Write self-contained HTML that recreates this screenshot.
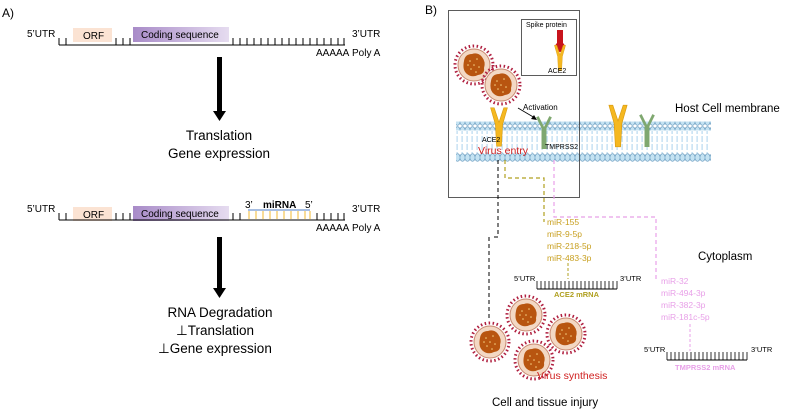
<!DOCTYPE html>
<html><head><meta charset="utf-8"><style>
html,body{margin:0;padding:0;background:#fff;}
svg{display:block;font-family:"Liberation Sans",sans-serif;}
</style></head><body>
<svg width="785" height="411" viewBox="0 0 785 411" xmlns="http://www.w3.org/2000/svg">
<defs>
<linearGradient id="cs" x1="0" x2="1"><stop offset="0" stop-color="#a88bc8"/><stop offset="1" stop-color="#e6dcf0"/></linearGradient>
<pattern id="heads" x="0" y="0" width="5" height="9" patternUnits="userSpaceOnUse">
<ellipse cx="2.5" cy="4.5" rx="2.6" ry="3.8" fill="#c4e2f2" stroke="#5a90b8" stroke-width="0.6"/>
</pattern>
<pattern id="tails" x="0" y="0" width="5" height="8" patternUnits="userSpaceOnUse">
<rect x="1.5" y="0" width="1.2" height="6" fill="#b8daf0"/>
</pattern>
<g id="vir">
<circle r="19" fill="none" stroke="#b02040" stroke-width="3" stroke-dasharray="1.5 2.5"/>
<circle r="16" fill="#f3d8c4" stroke="#c88870" stroke-width="1"/>
<path d="M-10,-4 Q-9,-11 -2,-11 Q4,-13 8,-8 Q12,-3 10,3 Q11,9 4,10 Q-2,13 -7,9 Q-12,5 -10,-4Z" fill="#b85510"/>
<g fill="#f5d080"><circle cx="-4" cy="-4" r="0.8"/><circle cx="3" cy="-6" r="0.8"/><circle cx="5" cy="2" r="0.8"/><circle cx="-3" cy="4" r="0.8"/><circle cx="0" cy="0" r="0.8"/><circle cx="-6" cy="0" r="0.8"/><circle cx="2" cy="7" r="0.8"/></g>
</g>
<g id="ace2">
<path d="M-7,-16 L-3,-2 L-2,16 L2,16 L3,-2 L7,-16 L4,-16 L0,-4 L-4,-16Z" fill="#f5b820" stroke="#d89a10" stroke-width="0.5"/>
</g>
<g id="tmp">
<path d="M-6,-12 L-1,-2 L-1,16 L1,16 L1,-2 L6,-12" fill="none" stroke="#7fa870" stroke-width="2.5"/>
</g>
</defs>

<!-- Panel A -->
<text x="2" y="17" font-size="12">A)</text>
<g font-size="10">
<text x="27" y="37">5’UTR</text>
<text x="352" y="37">3’UTR</text>
<text x="352" y="56">Poly A</text>
<text x="316" y="56">AAAAA</text>
</g>
<rect x="73" y="28" width="39" height="14" fill="#fbe3d3"/>
<text x="83" y="39" font-size="10">ORF</text>
<rect x="133" y="27" width="96" height="15" fill="url(#cs)"/>
<text x="141" y="38" font-size="10">Coding sequence</text>
<path d="M59,45 H345 M59,45 V38 M66,45 V38 M116,45 V38 M123,45 V38 M130,45 V38 M233,45V38 M240,45V38 M247,45V38 M254,45V38 M261,45V38 M268,45V38 M275,45V38 M282,45V38 M289,45V38 M296,45V38 M303,45V38 M310,45V38 M317,45V38 M324,45V38 M331,45V38 M338,45V38 M344,45V38" stroke="#000" stroke-width="1" fill="none"/>
<rect x="217" y="57" width="5" height="56" fill="#000"/>
<path d="M213,111 L226,111 L219.5,121Z" fill="#000"/>
<text x="219" y="140" font-size="13.5" text-anchor="middle">Translation</text>
<text x="219" y="158" font-size="13.5" text-anchor="middle">Gene expression</text>

<g font-size="10">
<text x="27" y="212">5’UTR</text>
<text x="352" y="212">3’UTR</text>
<text x="352" y="231">Poly A</text>
<text x="316" y="231">AAAAA</text>
<text x="245" y="208">3’</text>
<text x="263" y="208" font-weight="bold">miRNA</text>
<text x="305" y="208">5’</text>
</g>
<rect x="73" y="207" width="39" height="14" fill="#fbe3d3"/>
<text x="83" y="218" font-size="10">ORF</text>
<rect x="133" y="206" width="96" height="15" fill="url(#cs)"/>
<text x="141" y="217" font-size="10">Coding sequence</text>
<path d="M59,220 H345 M59,220 V213 M66,220 V213 M116,220 V213 M123,220 V213 M130,220 V213 M233,220V213 M240,220V213 M317,220V213 M324,220V213 M331,220V213 M338,220V213 M344,220V213" stroke="#000" stroke-width="1" fill="none"/>
<path d="M248,210 H310" stroke="#8aa8d8" stroke-width="1.5"/>
<path d="M249,211V219 M256,211V219 M263,211V219 M270,211V219 M277,211V219 M284,211V219 M291,211V219 M298,211V219 M305,211V219 M310,211V219" stroke="#f0b830" stroke-width="1"/>
<rect x="217" y="237" width="5" height="53" fill="#000"/>
<path d="M213,288 L226,288 L219.5,298Z" fill="#000"/>
<text x="220" y="317" font-size="13.5" text-anchor="middle">RNA Degradation</text>
<text x="176" y="335" font-size="13.5">⊥Translation</text>
<text x="158" y="353" font-size="13.5">⊥Gene expression</text>

<!-- Panel B -->
<text x="425" y="14" font-size="12">B)</text>
<!-- membrane -->
<rect x="456" y="131" width="254" height="22" fill="url(#tails)"/>
<rect x="456" y="121.5" width="255" height="9" fill="url(#heads)"/>
<rect x="456" y="152.5" width="255" height="9" fill="url(#heads)"/>
<text x="675" y="112" font-size="11.5">Host Cell membrane</text>
<!-- box -->
<rect x="448.5" y="10.5" width="131" height="187" fill="none" stroke="#333" stroke-width="0.8"/>
<rect x="521.5" y="19.5" width="55" height="56" fill="#fff" stroke="#333" stroke-width="0.8"/>
<text x="526" y="27" font-size="7">Spike protein</text>
<rect x="557" y="30" width="6" height="14" fill="#c8141c"/>
<circle cx="560" cy="47" r="5" fill="#c8141c"/>
<g transform="translate(560,58) scale(0.8)"><use href="#ace2"/></g>
<text x="548" y="73" font-size="7">ACE2</text>
<use href="#vir" x="474" y="65"/>
<use href="#vir" x="501" y="85"/>
<g transform="translate(499,127) scale(1.2)"><use href="#ace2"/></g>
<g transform="translate(544,130) scale(1.1)"><use href="#tmp"/></g>
<g transform="translate(618,126) scale(1.3)"><use href="#ace2"/></g>
<g transform="translate(647,128) scale(1.1)"><use href="#tmp"/></g>
<text x="523" y="110" font-size="8">Activation</text>
<path d="M518,108 L535,118" stroke="#000" stroke-width="0.8"/>
<path d="M537,120 L531,119 L534,115Z" fill="#000"/>
<text x="482" y="142" font-size="7">ACE2</text>
<text x="545" y="149" font-size="7">TMPRSS2</text>
<text x="478" y="154" font-size="10.5" fill="#d02020">Virus entry</text>
<!-- dashed -->
<path d="M498,160 V237 H494 M489,237 V320" stroke="#000" stroke-width="1" stroke-dasharray="4 3" fill="none"/>
<path d="M505,160 V178 H544 V222" stroke="#b0a020" stroke-width="1.2" stroke-dasharray="4 3" fill="none"/>
<path d="M554,160 V217 H656 V280" stroke="#e8a0e8" stroke-width="1.2" stroke-dasharray="4 3" fill="none"/>
<g font-size="8.5" fill="#c8a020">
<text x="547" y="225">miR-155</text>
<text x="547" y="237">miR-9-5p</text>
<text x="547" y="249">miR-218-5p</text>
<text x="547" y="261">miR-483-3p</text>
</g>
<path d="M568,263 V279" stroke="#b0a020" stroke-dasharray="3 2"/>
<text x="514" y="281" font-size="7.5">5’UTR</text>
<text x="620" y="281" font-size="7.5">3’UTR</text>
<path d="M537,289 H617" stroke="#000"/>
<path d="M537,289V281 M541,289V281 M545,289V281 M549,289V281 M553,289V281 M557,289V281 M561,289V281 M565,289V281 M569,289V281 M573,289V281 M577,289V281 M581,289V281 M585,289V281 M589,289V281 M593,289V281 M597,289V281 M601,289V281 M605,289V281 M609,289V281 M613,289V281 M617,289V281" stroke="#000" stroke-width="0.8"/>
<text x="554" y="297" font-size="7.5" font-weight="bold" fill="#b0a020">ACE2 mRNA</text>
<text x="698" y="260" font-size="11.5">Cytoplasm</text>
<g font-size="8.5" fill="#e8a0e8">
<text x="661" y="284">miR-32</text>
<text x="661" y="296">miR-494-3p</text>
<text x="661" y="308">miR-382-3p</text>
<text x="661" y="320">miR-181c-5p</text>
</g>
<path d="M690,324 V351" stroke="#e8a0e8" stroke-dasharray="3 2"/>
<text x="644" y="352" font-size="7.5">5’UTR</text>
<text x="751" y="352" font-size="7.5">3’UTR</text>
<path d="M667,360 H747" stroke="#000"/>
<path d="M667,360V352 M671,360V352 M675,360V352 M679,360V352 M683,360V352 M687,360V352 M691,360V352 M695,360V352 M699,360V352 M703,360V352 M707,360V352 M711,360V352 M715,360V352 M719,360V352 M723,360V352 M727,360V352 M731,360V352 M735,360V352 M739,360V352 M743,360V352 M747,360V352" stroke="#000" stroke-width="0.8"/>
<text x="675" y="370" font-size="7.5" font-weight="bold" fill="#e8a0e8">TMPRSS2 mRNA</text>
<use href="#vir" x="526" y="315"/>
<use href="#vir" x="566" y="334"/>
<use href="#vir" x="490" y="342"/>
<use href="#vir" x="534" y="360"/>
<text x="537" y="379" font-size="10.5" fill="#d02020">Virus synthesis</text>
<text x="492" y="406" font-size="11.5">Cell and tissue injury</text>
</svg>
</body></html>
